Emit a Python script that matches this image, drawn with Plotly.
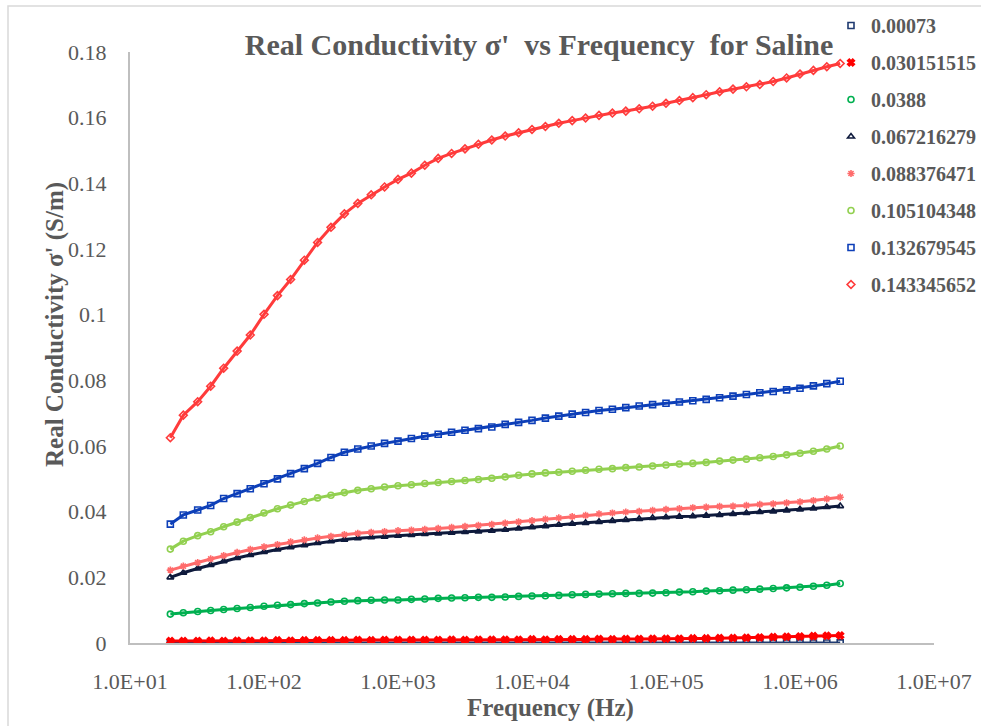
import plotly.graph_objects as go

# Frequencies (Hz)
freq = [20, 25, 32, 40, 50, 63, 79, 100, 126, 158, 200, 251, 316, 398, 501, 631, 794,
        1000, 1259, 1585, 1995, 2512, 3162, 3981, 5012, 6310, 7943,
        10000, 12589, 15849, 19953, 25119, 31623, 39811, 50119, 63096, 79433,
        100000, 125893, 158489, 199526, 251189, 316228, 398107, 501187, 630957, 794328,
        1000000, 1258925, 1584893, 1995262]

series_names = ["0.00073", "0.030151515", "0.0388", "0.067216279",
                "0.088376471", "0.105104348", "0.132679545", "0.143345652"]

s_00073 = [0.00002, 0.00002, 0.00003, 0.00002, 0.00002, 0.00003, 0.00002, 0.00002, 0.00003, 0.00002,
           0.00002, 0.00003, 0.00002, 0.00002, 0.00003, 0.00002, 0.00002, 0.00003, 0.00002, 0.00002,
           0.00003, 0.00002, 0.00002, 0.00003, 0.00002, 0.00002, 0.00003, 0.00002, 0.00002, 0.00003,
           0.00002, 0.00002, 0.00003, 0.00002, 0.00002, 0.00003, 0.00002, 0.00002, 0.00003, 0.00002,
           0.00002, 0.00003, 0.00002, 0.00002, 0.00003, 0.00002, 0.00002, 0.00003, 0.00002, 0.00002,
           0.00003]

s_0301 = [0.0006, 0.0006, 0.0006, 0.0007, 0.0006, 0.0007, 0.0007, 0.0007, 0.0008, 0.0007,
          0.0008, 0.0008, 0.0008, 0.0008, 0.0009, 0.0008, 0.0009, 0.0009, 0.0009, 0.0009,
          0.0009, 0.0010, 0.0009, 0.0010, 0.0010, 0.0010, 0.0010, 0.0011, 0.0010, 0.0011,
          0.0011, 0.0011, 0.0012, 0.0011, 0.0012, 0.0012, 0.0013, 0.0013, 0.0013, 0.0014,
          0.0014, 0.0015, 0.0015, 0.0016, 0.0017, 0.0018, 0.0019, 0.0020, 0.0021, 0.0022,
          0.0023]

s_0388 = [0.0088, 0.0092, 0.0096, 0.0099, 0.0102, 0.0105, 0.0108, 0.0112, 0.0115, 0.0117,
          0.0120, 0.0122, 0.0125, 0.0127, 0.0129, 0.0130, 0.0131, 0.0131, 0.0133, 0.0134,
          0.0136, 0.0137, 0.0138, 0.0139, 0.0139, 0.0140, 0.0142, 0.0143, 0.0144, 0.0145,
          0.0147, 0.0148, 0.0149, 0.0150, 0.0151, 0.0151, 0.0152, 0.0153, 0.0155, 0.0156,
          0.0158, 0.0159, 0.0161, 0.0162, 0.0164, 0.0166, 0.0168, 0.0170, 0.0173, 0.0176,
          0.0181]

s_0672 = [0.0200, 0.0214, 0.0227, 0.0238, 0.0249, 0.0259, 0.0268, 0.0277, 0.0285, 0.0292,
          0.0298, 0.0305, 0.0310, 0.0315, 0.0319, 0.0322, 0.0324, 0.0327, 0.0329, 0.0332,
          0.0334, 0.0336, 0.0338, 0.0340, 0.0342, 0.0345, 0.0349, 0.0353, 0.0356, 0.0360,
          0.0363, 0.0366, 0.0369, 0.0372, 0.0375, 0.0378, 0.0381, 0.0383, 0.0385, 0.0386,
          0.0388, 0.0390, 0.0393, 0.0396, 0.0399, 0.0401, 0.0404, 0.0407, 0.0410, 0.0414,
          0.0417]

s_0884 = [0.0222, 0.0234, 0.0245, 0.0256, 0.0266, 0.0276, 0.0285, 0.0293, 0.0300, 0.0308,
          0.0314, 0.0320, 0.0325, 0.0330, 0.0334, 0.0337, 0.0339, 0.0342, 0.0344, 0.0346,
          0.0349, 0.0352, 0.0355, 0.0358, 0.0361, 0.0365, 0.0369, 0.0373, 0.0377, 0.0381,
          0.0385, 0.0389, 0.0393, 0.0396, 0.0399, 0.0401, 0.0404, 0.0407, 0.0409, 0.0412,
          0.0414, 0.0416, 0.0417, 0.0419, 0.0422, 0.0424, 0.0427, 0.0430, 0.0434, 0.0439,
          0.0444]

s_1051 = [0.0286, 0.0310, 0.0327, 0.0339, 0.0354, 0.0368, 0.0382, 0.0396, 0.0409, 0.0420,
          0.0431, 0.0442, 0.0450, 0.0458, 0.0465, 0.0470, 0.0475, 0.0479, 0.0482, 0.0486,
          0.0489, 0.0492, 0.0495, 0.0498, 0.0502, 0.0506, 0.0511, 0.0515, 0.0518, 0.0520,
          0.0523, 0.0526, 0.0529, 0.0531, 0.0534, 0.0536, 0.0539, 0.0542, 0.0545, 0.0547,
          0.0550, 0.0554, 0.0557, 0.0560, 0.0564, 0.0568, 0.0573, 0.0578, 0.0584, 0.0591,
          0.0600]

s_1327 = [0.0362, 0.0390, 0.0405, 0.0419, 0.0440, 0.0455, 0.0470, 0.0485, 0.0500, 0.0516,
          0.0531, 0.0547, 0.0565, 0.0581, 0.0591, 0.0600, 0.0608, 0.0615, 0.0623, 0.0630,
          0.0636, 0.0642, 0.0648, 0.0653, 0.0658, 0.0666, 0.0672, 0.0678, 0.0685, 0.0691,
          0.0697, 0.0702, 0.0708, 0.0712, 0.0717, 0.0722, 0.0726, 0.0730, 0.0734, 0.0738,
          0.0742, 0.0747, 0.0752, 0.0757, 0.0762, 0.0766, 0.0771, 0.0776, 0.0783, 0.0790,
          0.0797]

s_1433 = [0.0625, 0.0694, 0.0735, 0.0782, 0.0837, 0.0889, 0.0938, 0.1001, 0.1058, 0.1107,
          0.1166, 0.1220, 0.1266, 0.1307, 0.1339, 0.1365, 0.1389, 0.1412, 0.1431, 0.1455,
          0.1476, 0.1491, 0.1505, 0.1519, 0.1532, 0.1544, 0.1554, 0.1564, 0.1573, 0.1583,
          0.1591, 0.1599, 0.1607, 0.1614, 0.1620, 0.1627, 0.1635, 0.1644, 0.1652, 0.1661,
          0.1670, 0.1679, 0.1687, 0.1694, 0.1701, 0.1710, 0.1721, 0.1733, 0.1744, 0.1755,
          0.1765]

series_values = [s_00073, s_0301, s_0388, s_0672, s_0884, s_1051, s_1327, s_1433]
colors = ["#1F3A70", "#FF0000", "#00B050", "#0E1A3C", "#FF6B6B", "#92D050", "#0D3FB8", "#FF3B3B"]
symbols = ["square-open", "x", "circle-open", "triangle-up-open", "asterisk-open",
           "circle-open", "square-open", "diamond-open"]

x_tickvals = [10, 100, 1000, 10000, 100000, 1000000, 10000000]
x_ticktext = ["1.0E+01", "1.0E+02", "1.0E+03", "1.0E+04", "1.0E+05", "1.0E+06", "1.0E+07"]
y_tickvals = [0, 0.02, 0.04, 0.06, 0.08, 0.1, 0.12, 0.14, 0.16, 0.18]
y_ticktext = ["0", "0.02", "0.04", "0.06", "0.08", "0.1", "0.12", "0.14", "0.16", "0.18"]

FONT = "Liberation Serif"
GRAY = "#595959"

fig = go.Figure()
for name, vals, col, sym in zip(series_names, series_values, colors, symbols):
    fig.add_trace(go.Scatter(
        x=freq, y=vals, mode="lines", line=dict(color=col, width=3),
        showlegend=False, hoverinfo="skip"))
    fig.add_trace(go.Scatter(
        x=freq, y=vals, mode="markers", name=name, legendgroup=name,
        marker=dict(symbol=sym, size=6, color=col, line=dict(color=col, width=1.6))))

W, H = 981, 726
L, R, T, B = 130, 47, 52, 83
pw, ph = W - L - R, H - T - B

def px(xp):
    return (xp - L) / pw

def py(yp):
    return (H - B - yp) / ph

fig.update_layout(
    width=W, height=H,
    margin=dict(l=L, r=R, t=T, b=B, autoexpand=False),
    paper_bgcolor="white", plot_bgcolor="white",
    title=dict(text="<b>Real Conductivity σ'\u00a0 vs Frequency\u00a0 for Saline</b>",
               x=539 / W, xanchor="center", y=1 - 44 / H, yanchor="middle",
               font=dict(family=FONT, size=30, color=GRAY)),
    xaxis=dict(type="log", range=[1, 7], tickvals=x_tickvals, ticktext=x_ticktext,
               showline=True, linecolor="#BFBFBF", linewidth=2, showgrid=False,
               zeroline=False, ticks="outside", ticklen=18, tickcolor="rgba(0,0,0,0)",
               tickfont=dict(family=FONT, size=22, color=GRAY)),
    yaxis=dict(range=[0, 0.18], tickvals=y_tickvals, ticktext=y_ticktext,
               showline=True, linecolor="#BFBFBF", linewidth=2, showgrid=False,
               zeroline=False, ticks="outside", ticklen=17, tickcolor="rgba(0,0,0,0)",
               tickfont=dict(family=FONT, size=22, color=GRAY)),
    legend=dict(xref="container", yref="container", x=839 / W, xanchor="left",
                y=1 - 6 / H, yanchor="top", indentation=-8,
                font=dict(family=FONT, size=20, color=GRAY, weight="bold"),
                tracegroupgap=8, bgcolor="rgba(0,0,0,0)", itemwidth=30),
    annotations=[
        dict(text="<b>Real Conductivity σ' (S/m)</b>", xref="paper", yref="paper",
             x=px(55), y=py(325), textangle=-90, showarrow=False,
             xanchor="center", yanchor="middle",
             font=dict(family=FONT, size=25, color=GRAY)),
        dict(text="<b>Frequency (Hz)</b>", xref="paper", yref="paper",
             x=px(550), y=py(708), showarrow=False, xanchor="center", yanchor="middle",
             font=dict(family=FONT, size=25, color=GRAY)),
    ],
    shapes=[dict(type="rect", xref="paper", yref="paper",
                 x0=px(8), x1=px(1100), y0=py(900), y1=py(6),
                 line=dict(color="#D9D9D9", width=1.5), fillcolor="rgba(0,0,0,0)")],
)

fig.write_html("out.html")
